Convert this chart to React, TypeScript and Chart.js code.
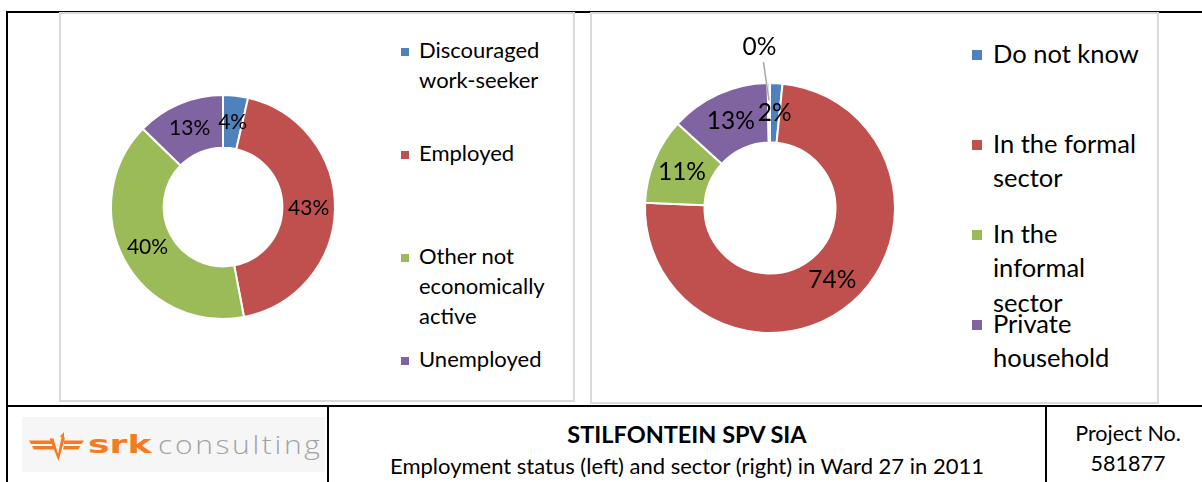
import React, { useEffect, useRef } from "react";
import { Chart, registerables } from "chart.js";

Chart.register(...registerables);

// ---------------- data ----------------
const statusCategories = [
  "Discouraged work-seeker",
  "Employed",
  "Other not economically active",
  "Unemployed",
];
const statusLegendLines = [
  ["Discouraged", "work-seeker"],
  ["Employed"],
  ["Other not", "economically", "active"],
  ["Unemployed"],
];
const statusValues = [3.6, 43.4, 40.3, 12.7];

const sectorCategories = [
  "Do not know",
  "In the formal sector",
  "In the informal sector",
  "Private household",
  "Unspecified",
];
const sectorLegendLines = [
  ["Do not know"],
  ["In the formal", "sector"],
  ["In the", "informal", "sector"],
  ["Private", "household"],
];
const sectorValues = [1.6, 74.0, 11.1, 12.9, 0.3];

const sliceColors = ["#4F81BD", "#C0504D", "#9BBB59", "#8064A2", "#4BACC6"];

const titleText = "STILFONTEIN SPV SIA";
const subtitleText = "Employment status (left) and sector (right) in Ward 27 in 2011";
const projectLines = ["Project No.", "581877"];

const FONT = "Lato, 'Open Sans', sans-serif";

// ---------------- label plugin ----------------
const sliceLabelPlugin = {
  id: "sliceLabels",
  afterDatasetsDraw(chart: any, _args: any, opts: any) {
    const { ctx } = chart;
    const meta = chart.getDatasetMeta(0);
    const data = chart.data.datasets[0].data as number[];
    const total = data.reduce((a: number, b: number) => a + b, 0);
    ctx.save();
    ctx.font = `${opts.fontSize}px ${FONT}`;
    ctx.fillStyle = "#000";
    ctx.textAlign = "center";
    ctx.textBaseline = "middle";
    meta.data.forEach((el: any, i: number) => {
      const p = el.getProps(
        ["x", "y", "startAngle", "endAngle", "innerRadius", "outerRadius"],
        true
      );
      const pct = Math.round((data[i] / total) * 100);
      const mid = (p.startAngle + p.endAngle) / 2;
      if (pct === 0) {
        const lr = p.outerRadius + opts.outsideGap;
        const lx = p.x + Math.cos(mid) * lr + opts.outsideShiftX;
        const ly = p.y + Math.sin(mid) * lr;
        const er = p.outerRadius * 0.86;
        ctx.strokeStyle = "#A6A6A6";
        ctx.lineWidth = 1.5;
        ctx.beginPath();
        ctx.moveTo(lx + 4, ly + opts.fontSize * 0.62);
        ctx.lineTo(p.x + Math.cos(mid) * er, p.y + Math.sin(mid) * er);
        ctx.stroke();
        ctx.fillText(pct + "%", lx, ly);
      } else {
        const r = (p.innerRadius + p.outerRadius) / 2;
        ctx.fillText(pct + "%", p.x + Math.cos(mid) * r, p.y + Math.sin(mid) * r);
      }
    });
    ctx.restore();
  },
};

// ---------------- donut ----------------
function Donut(props: {
  labels: string[];
  values: number[];
  left: number;
  top: number;
  size: number;
  pad: number;
  cutout: string;
  fontSize: number;
}) {
  const ref = useRef<HTMLCanvasElement | null>(null);
  useEffect(() => {
    if (!ref.current) return;
    const chart = new Chart(ref.current, {
      type: "doughnut",
      data: {
        labels: props.labels,
        datasets: [
          {
            data: props.values,
            backgroundColor: sliceColors.slice(0, props.values.length),
            borderColor: "#FFFFFF",
            borderWidth: 2,
            hoverOffset: 0,
            offset: 0,
          },
        ],
      },
      options: {
        responsive: false,
        animation: false,
        events: [],
        cutout: props.cutout,
        layout: { padding: props.pad },
        plugins: {
          legend: { display: false },
          tooltip: { enabled: false },
          title: { display: false },
          sliceLabels: { fontSize: props.fontSize, outsideGap: 36, outsideShiftX: -9 },
        } as any,
      },
      plugins: [sliceLabelPlugin as any],
    });
    return () => chart.destroy();
  }, []);
  return (
    <canvas
      ref={ref}
      width={props.size}
      height={props.size}
      style={{
        position: "absolute",
        left: props.left,
        top: props.top,
        width: props.size,
        height: props.size,
      }}
    />
  );
}

// ---------------- legend ----------------
function Legend(props: {
  lines: string[][];
  left: number;
  firstBaseline: number;
  step: number;
  fontSize: number;
  lineHeight: number;
  square: number;
  textLeft: number;
  squareRaise: number;
}) {
  const fs = props.fontSize;
  const baseOff = (props.lineHeight - 1.2 * fs) / 2 + 0.987 * fs;
  return (
    <>
      {props.lines.map((ls, i) => {
        const base = props.firstBaseline + i * props.step;
        return (
          <React.Fragment key={i}>
            <div
              style={{
                position: "absolute",
                left: props.left,
                top: base - props.squareRaise - props.square / 2,
                width: props.square,
                height: props.square,
                background: sliceColors[i],
              }}
            />
            <div
              style={{
                position: "absolute",
                left: props.textLeft,
                top: base - baseOff,
                fontFamily: FONT,
                fontSize: fs,
                lineHeight: props.lineHeight + "px",
                color: "#000",
                whiteSpace: "nowrap",
              }}
            >
              {ls.map((t, j) => (
                <div key={j}>{t}</div>
              ))}
            </div>
          </React.Fragment>
        );
      })}
    </>
  );
}

function Logo() {
  const orange = "#F47B20";
  return (
    <div
      style={{
        position: "absolute",
        left: 22,
        top: 417,
        width: 303,
        height: 55,
        background: "#F6F6F6",
      }}
    >
      <svg width={303} height={55} style={{ position: "absolute", left: 0, top: 0 }}>
        <g fill={orange}>
          <polygon points="7,23.5 30,23.5 31,27 9,27" />
          <polygon points="10,29 32,29 33,32.5 12,32.5" />
          <polygon points="27.5,21.5 31.5,21.5 36,37 39.5,20.5 43,20.5 36.5,44" />
          <polygon points="38,19.5 42,15 42,22" />
          <polygon points="42,23.5 62,23.5 59.5,27 42,27" />
          <polygon points="42,29 58.5,29 56,32.5 41,32.5" />
        </g>
      </svg>
      <div
        style={{
          position: "absolute",
          left: 66,
          top: 13,
          fontFamily: "'DejaVu Sans', sans-serif",
          fontWeight: 900,
          fontSize: 25,
          color: orange,
          lineHeight: "30px",
          transform: "scaleX(1.45)",
          transformOrigin: "left top",
        }}
      >
        srk
      </div>
      <div
        style={{
          position: "absolute",
          left: 136,
          top: 12,
          fontFamily: "'Open Sans', sans-serif",
          fontWeight: 300,
          fontSize: 25,
          color: "#A3A3A3",
          lineHeight: "30px",
          letterSpacing: 2.2,
          transform: "scaleX(1.2)",
          transformOrigin: "left top",
        }}
      >
        consulting
      </div>
    </div>
  );
}

const line = (l: number, t: number, w: number, h: number, c = "#000") => (
  <div style={{ position: "absolute", left: l, top: t, width: w, height: h, background: c }} />
);

export default function App() {
  return (
    <div
      style={{
        position: "absolute",
        left: 0,
        top: 0,
        width: 1202,
        height: 482,
        overflow: "hidden",
        background: "#FFFFFF",
        fontFamily: FONT,
      }}
    >
      {line(6, 11, 1196, 2)}
      {line(6, 11, 2, 471)}
      {line(6, 405, 1196, 2)}
      {line(327, 405, 2, 77)}
      {line(1045, 405, 2, 77)}

      <div
        style={{
          position: "absolute",
          left: 59,
          top: 12,
          width: 512,
          height: 386,
          border: "2px solid #D9D9D9",
          background: "#FFFFFF",
        }}
      />
      <div
        style={{
          position: "absolute",
          left: 590,
          top: 12,
          width: 565,
          height: 388,
          border: "2px solid #D9D9D9",
          background: "#FFFFFF",
        }}
      />

      <Donut
        labels={statusCategories}
        values={statusValues}
        left={70}
        top={54}
        size={306}
        pad={40}
        cutout="53%"
        fontSize={21}
      />
      <Legend
        lines={statusLegendLines}
        left={401}
        textLeft={419}
        firstBaseline={59}
        step={103}
        fontSize={22}
        lineHeight={30}
        square={8}
        squareRaise={7}
      />

      <Donut
        labels={sectorCategories}
        values={sectorValues}
        left={594}
        top={32}
        size={352}
        pad={50}
        cutout="52.4%"
        fontSize={24.5}
      />
      <Legend
        lines={sectorLegendLines}
        left={972}
        textLeft={993}
        firstBaseline={62.7}
        step={90}
        fontSize={25.5}
        lineHeight={34.5}
        square={10}
        squareRaise={8}
      />

      <Logo />

      <div
        style={{
          position: "absolute",
          left: 329,
          top: 419,
          width: 716,
          textAlign: "center",
          fontFamily: FONT,
          fontWeight: 700,
          fontSize: 23.5,
          lineHeight: "30px",
          color: "#000",
        }}
      >
        {titleText}
      </div>
      <div
        style={{
          position: "absolute",
          left: 329,
          top: 451,
          width: 716,
          textAlign: "center",
          fontFamily: FONT,
          fontSize: 22,
          lineHeight: "30px",
          color: "#000",
        }}
      >
        {subtitleText}
      </div>
      <div
        style={{
          position: "absolute",
          left: 1047,
          top: 418,
          width: 162,
          textAlign: "center",
          fontFamily: FONT,
          fontSize: 21.5,
          lineHeight: "30px",
          color: "#000",
        }}
      >
        {projectLines.map((t, i) => (
          <div key={i}>{t}</div>
        ))}
      </div>
    </div>
  );
}
